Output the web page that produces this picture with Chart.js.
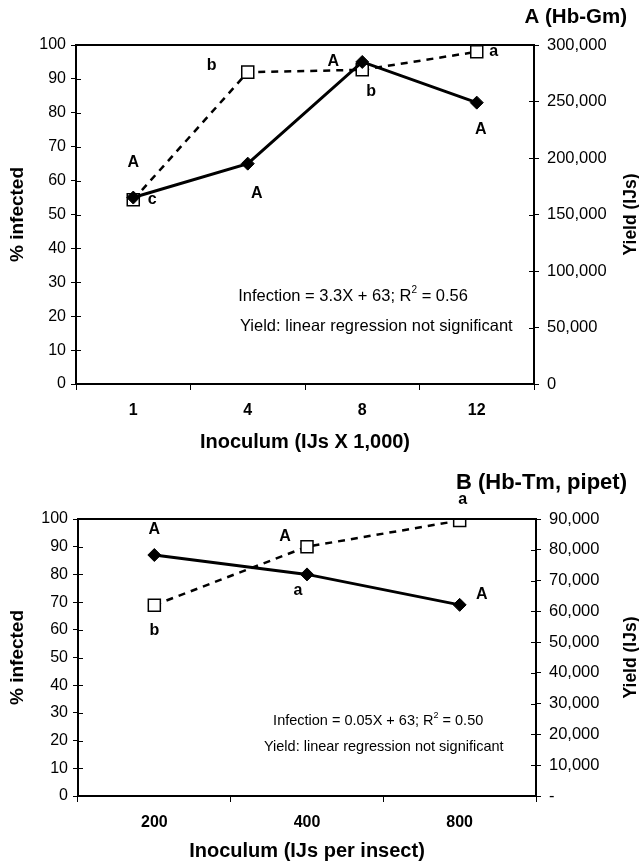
<!DOCTYPE html>
<html>
<head>
<meta charset="utf-8">
<script src="https://cdn.jsdelivr.net/npm/chart.js@4.4.0/dist/chart.umd.min.js"></script>
<style>
  html, body { margin: 0; padding: 0; background: #fff; }
  .panel { position: absolute; left: 0; width: 639px; }
  #wrapA { top: 0; height: 458px; }
  #wrapB { top: 458px; height: 409px; }
</style>
</head>
<body>
<div class="panel" id="wrapA"><canvas id="chartA" width="639" height="458"></canvas></div>
<div class="panel" id="wrapB"><canvas id="chartB" width="639" height="409"></canvas></div>
<script>
// Panel A (Hb-Gm)
const doseA = ['1', '4', '8', '12'];
const infectedA = [55, 65, 95, 83];
const yieldA = [163000, 276000, 278000, 294000];
const infLettersA = ['A', 'A', 'A', 'A'];
const yieldLettersA = ['c', 'b', 'b', 'a'];

// Panel B (Hb-Tm, pipet)
const doseB = ['200', '400', '800'];
const infectedB = [87, 80, 69];
const yieldB = [62000, 81000, 89500];
const infLettersB = ['A', 'a', 'A'];
const yieldLettersB = ['b', 'A', 'a'];

const FONT = '"Liberation Sans", Arial, sans-serif';

// panel title, letters, regression notes, box top, inner ticks, right axis title
const notesPlugin = {
  id: 'notes',
  afterDatasetsDraw(chart, args, opts) {
    const ctx = chart.ctx;
    const area = chart.chartArea;
    const xs = chart.scales.x, y = chart.scales.y, y1 = chart.scales.y1;
    ctx.save();

    ctx.strokeStyle = '#000';
    ctx.lineWidth = 2;
    ctx.beginPath();
    ctx.moveTo(area.left - 1, area.top);
    ctx.lineTo(area.right + 1, area.top);
    ctx.stroke();

    // tick stubs inside the box
    ctx.lineWidth = 1;
    ctx.beginPath();
    y.ticks.forEach(t => {
      const py = Math.round(y.getPixelForValue(t.value)) + 0.5;
      ctx.moveTo(area.left, py); ctx.lineTo(area.left + 5, py);
    });
    y1.ticks.forEach(t => {
      const py = Math.round(y1.getPixelForValue(t.value)) + 0.5;
      ctx.moveTo(area.right, py); ctx.lineTo(area.right - 5, py);
    });
    ctx.stroke();

    ctx.fillStyle = '#000';
    ctx.textBaseline = 'middle';

    ctx.font = 'bold ' + opts.titleSize + 'px ' + FONT;
    ctx.textAlign = 'right';
    ctx.fillText(opts.title, opts.titleRight, opts.titleY);

    ctx.font = 'bold 16px ' + FONT;
    ctx.textAlign = 'center';
    opts.infLetters.forEach((t, i) => {
      const [dx, dy] = opts.infOff[i];
      ctx.fillText(t, xs.getPixelForValue(i) + dx, y.getPixelForValue(opts.inf[i]) + dy);
    });
    opts.yieldLetters.forEach((t, i) => {
      const [dx, dy] = opts.yieldOff[i];
      ctx.fillText(t, xs.getPixelForValue(i) + dx, y1.getPixelForValue(opts.yld[i]) + dy);
    });

    ctx.textAlign = 'left';
    const size = opts.noteSize;
    opts.notes.forEach((line, k) => {
      let x = area.left + opts.noteX[k] * area.width;
      const yy = area.top + opts.noteY[k] * area.height;
      line.forEach(seg => {
        ctx.font = (seg.sup ? Math.round(size * 0.6) : size) + 'px ' + FONT;
        ctx.fillText(seg.t, x, seg.sup ? yy - size * 0.4 : yy);
        x += ctx.measureText(seg.t).width;
      });
    });

    ctx.font = 'bold 17.5px ' + FONT;
    ctx.textAlign = 'center';
    ctx.translate(631, (area.top + area.bottom) / 2);
    ctx.rotate(-Math.PI / 2);
    ctx.fillText('Yield (IJs)', 0, 0);
    ctx.restore();
  }
};

function makeChart(id, cfg) {
  const commas = v => v === 0 && cfg.dashZero ? '-' : v.toLocaleString('en-US');
  return new Chart(document.getElementById(id), {
    type: 'line',
    data: {
      labels: cfg.labels,
      datasets: [
        {
          label: '% infected',
          data: cfg.inf,
          yAxisID: 'y',
          borderColor: '#000',
          backgroundColor: '#000',
          borderWidth: 3,
          pointStyle: 'rectRot',
          pointRadius: 6.5,
          pointBorderWidth: 1,
          tension: 0
        },
        {
          label: 'Yield',
          data: cfg.yld,
          yAxisID: 'y1',
          borderColor: '#000',
          borderWidth: 2.5,
          borderDash: [7, 6],
          pointStyle: 'rect',
          pointRadius: 8.5,
          pointBackgroundColor: '#fff',
          pointBorderColor: '#000',
          pointBorderWidth: 1.5,
          tension: 0
        }
      ]
    },
    options: {
      responsive: false,
      animation: false,
      events: [],
      layout: { padding: { top: cfg.top, left: 0, right: 0, bottom: 0 } },
      plugins: {
        legend: { display: false },
        tooltip: { enabled: false },
        notes: {
          title: cfg.title, titleSize: cfg.titleSize, titleRight: 627, titleY: cfg.titleY,
          inf: cfg.inf, yld: cfg.yld,
          infLetters: cfg.infLetters, yieldLetters: cfg.yieldLetters,
          infOff: cfg.infOff, yieldOff: cfg.yieldOff,
          notes: cfg.notes, noteX: cfg.noteX, noteY: cfg.noteY, noteSize: cfg.noteSize
        }
      },
      scales: {
        x: {
          type: 'category',
          offset: true,
          grid: { offset: true, drawOnChartArea: false, tickLength: 6, color: '#000' },
          border: { color: '#000', width: 2 },
          ticks: { color: '#000', font: { family: FONT, size: 16, weight: 'bold' }, padding: 11 },
          title: {
            display: true, text: cfg.xTitle, color: '#000',
            font: { family: FONT, size: 20, weight: 'bold' }, padding: { top: 4, bottom: 4 }
          },
          afterFit: s => { s.height = cfg.xHeight; }
        },
        y: {
          position: 'left',
          min: 0, max: 100,
          ticks: { stepSize: 10, color: '#000', font: { family: FONT, size: 16 }, padding: 5 },
          grid: { drawOnChartArea: false, tickLength: 5, color: '#000' },
          border: { color: '#000', width: 2 },
          title: {
            display: true, text: '% infected', color: '#000',
            font: { family: FONT, size: 19, weight: 'bold' }, padding: { top: 6, bottom: 0 }
          },
          afterFit: s => { s.width = cfg.leftWidth; }
        },
        y1: {
          position: 'right',
          min: 0, max: cfg.yMax,
          ticks: { stepSize: cfg.yStep, color: '#000', font: { family: FONT, size: 16.5 }, padding: 8, callback: commas },
          grid: { drawOnChartArea: false, tickLength: 5, color: '#000' },
          border: { color: '#000', width: 2 },
          afterFit: s => { s.width = cfg.rightWidth; }
        }
      }
    },
    plugins: [notesPlugin]
  });
}

makeChart('chartA', {
  labels: doseA, inf: infectedA, yld: yieldA,
  infLetters: infLettersA, yieldLetters: yieldLettersA,
  infOff: [[0, -35], [9, 30], [-29, 0], [4, 27]],
  yieldOff: [[19, 0], [-36, -7], [9, 22], [17, 0]],
  title: 'A (Hb-Gm)', titleSize: 20.5, titleY: 17, top: 45,
  xTitle: 'Inoculum (IJs X 1,000)', xHeight: 74,
  leftWidth: 76, rightWidth: 105,
  yMax: 300000, yStep: 50000,
  notes: [
    [{ t: 'Infection = 3.3X + 63; R' }, { t: '2', sup: true }, { t: ' = 0.56' }],
    [{ t: 'Yield: linear regression not significant' }]
  ],
  noteX: [0.354, 0.358], noteY: [0.743, 0.829], noteSize: 16.5
});

makeChart('chartB', {
  labels: doseB, inf: infectedB, yld: yieldB,
  infLetters: infLettersB, yieldLetters: yieldLettersB,
  infOff: [[0, -25], [-9, 16], [22, -10]],
  yieldOff: [[0, 25], [-22, -10], [3, -21]],
  title: 'B (Hb-Tm, pipet)', titleSize: 22, titleY: 25, top: 61,
  xTitle: 'Inoculum (IJs per insect)', xHeight: 71,
  leftWidth: 78, rightWidth: 103,
  yMax: 90000, yStep: 10000, dashZero: true,
  notes: [
    [{ t: 'Infection = 0.05X + 63; R' }, { t: '2', sup: true }, { t: ' = 0.50' }],
    [{ t: 'Yield: linear regression not significant' }]
  ],
  noteX: [0.426, 0.406], noteY: [0.73, 0.823], noteSize: 14.5
});
</script>
</body>
</html>
